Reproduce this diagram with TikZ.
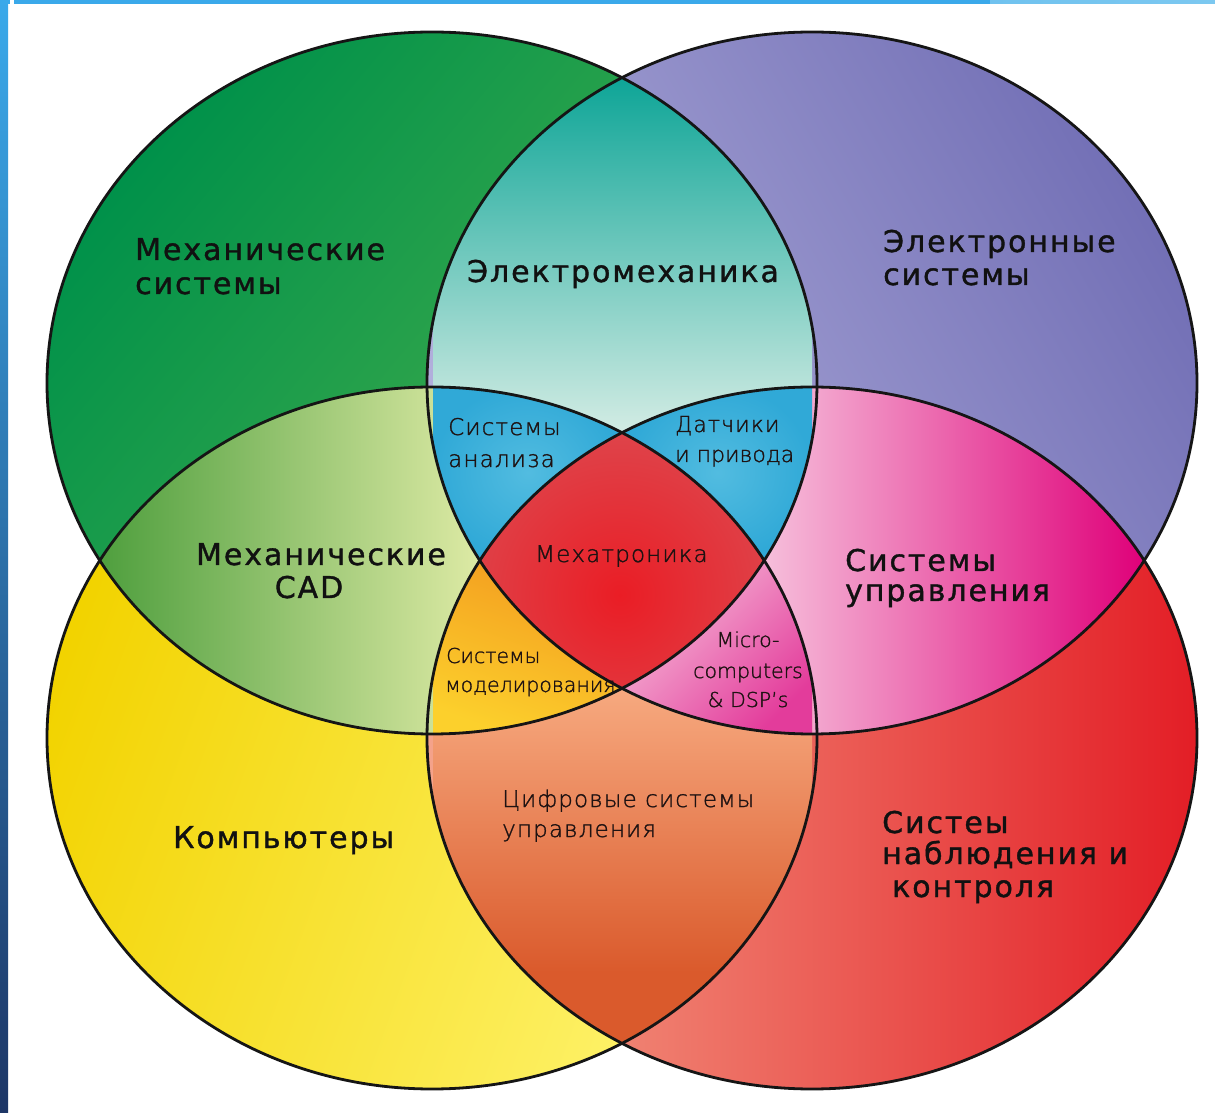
\documentclass[tikz,border=0pt]{standalone}
\usepackage{fontspec}
\setmainfont{DejaVu Sans}
\newfontfamily\bigf{DejaVu Sans}[LetterSpace=6.5,FakeBold=1.2]
\IfFontExistsTF{DejaVu Sans ExtraLight}{\newfontfamily\thinf{DejaVu Sans ExtraLight}[LetterSpace=5,FakeBold=1.3]\newfontfamily\thinn{DejaVu Sans ExtraLight}[LetterSpace=0,FakeBold=1.3]}{\newfontfamily\thinf{DejaVu Sans}[LetterSpace=5]\newfontfamily\thinn{DejaVu Sans}[LetterSpace=0]}
\definecolor{gTop}{HTML}{00914A}
\definecolor{gBot}{HTML}{55B44C}
\definecolor{pTop}{HTML}{7370B6}
\definecolor{pBot}{HTML}{B5B3DE}
\definecolor{yTop}{HTML}{F2D300}
\definecolor{yBot}{HTML}{FFF574}
\definecolor{rTop}{HTML}{F4A38B}
\definecolor{rBot}{HTML}{E31E26}
\definecolor{emTop}{HTML}{0EA597}
\definecolor{emMid}{HTML}{9AD8CE}
\definecolor{emBot}{HTML}{D3ECE4}
\definecolor{cadL}{HTML}{4F9F3E}
\definecolor{cadR}{HTML}{DFEBA6}
\definecolor{ctlL}{HTML}{F6BFDB}
\definecolor{ctlR}{HTML}{DF0079}
\definecolor{digTop}{HTML}{F7AA80}
\definecolor{digMid}{HTML}{EE7226}
\definecolor{digBot}{HTML}{DA5A2C}
\definecolor{blueA}{HTML}{30A9D7}
\definecolor{blueB}{HTML}{52BCE0}
\definecolor{modTop}{HTML}{F39A1F}
\definecolor{modBot}{HTML}{FCD02C}
\definecolor{mcTop}{HTML}{F6BCD9}
\definecolor{mcBot}{HTML}{E33C9B}
\definecolor{mtIn}{HTML}{EA1D25}
\definecolor{mtOut}{HTML}{D8585E}
\definecolor{barTop}{HTML}{3AA9EA}
\definecolor{barBot}{HTML}{1D3666}
\definecolor{barLight}{HTML}{7CC8F0}
\definecolor{outl}{HTML}{151515}
\definecolor{txt}{HTML}{111111}
\definecolor{txtT}{HTML}{1E1212}
\begin{document}
\begin{tikzpicture}[x=1pt,y=1pt,
  ell/.style={x radius=385pt, y radius=351pt},
  outline/.style={draw=outl, line width=2.8pt},
  bigt/.style={font=\bigf\fontsize{30}{34}\selectfont, inner sep=0pt, text=txt},
  thint/.style={font=\thinf\fontsize{23}{28}\selectfont, inner sep=0pt, text=txtT},
  smallt/.style={font=\thinn\fontsize{20.5}{24}\selectfont, inner sep=0pt, text=txtT}]
\useasboundingbox (0,0) rectangle (1215,1112);
\fill[white] (0,0) rectangle (1215,1112);
% frame bars
\shade[top color=barTop, bottom color=barBot] (0,0) rectangle (8,1112);
\fill[barTop] (0,1108) rectangle (10,1112);
\shade[top color=barTop, bottom color=barLight, shading angle=90] (14,1108) rectangle (1215,1112);
\fill[barTop] (14,1108) rectangle (990,1112);
% centres
\coordinate (cG) at (432,729);
\coordinate (cP) at (812,729);
\coordinate (cY) at (432,374);
\coordinate (cR) at (812,374);
% single sets
\shade[top color=gTop, bottom color=gBot, shading angle=50] (cG) ellipse [ell];
\shade[top color=pTop, bottom color=pBot, shading angle=-60] (cP) ellipse [ell];
\shade[top color=yTop, bottom color=yBot, shading angle=70] (cY) ellipse [ell];
\shade[top color=rTop, bottom color=rBot, shading angle=90] (cR) ellipse [ell];
% pairs
\begin{scope}
  \clip (cG) ellipse [ell]; \clip (cP) ellipse [ell];
  \shade[top color=emTop, middle color=emMid, bottom color=emBot] (433,679) rectangle (812,1034);
\end{scope}
\begin{scope}
  \clip (cG) ellipse [ell]; \clip (cY) ellipse [ell];
  \shade[top color=cadL, bottom color=cadR, shading angle=90] (100,377) rectangle (485,727);
\end{scope}
\begin{scope}
  \clip (cP) ellipse [ell]; \clip (cR) ellipse [ell];
  \shade[top color=ctlL, bottom color=ctlR, shading angle=90] (764,377) rectangle (1144,727);
\end{scope}
\begin{scope}
  \clip (cY) ellipse [ell]; \clip (cR) ellipse [ell];
  \fill[digBot] (433,60) rectangle (812,150);
  \shade[top color=digTop, middle color=digMid, bottom color=digBot] (433,140) rectangle (812,426);
\end{scope}
% triples
\begin{scope}
  \clip (cG) ellipse [ell]; \clip (cP) ellipse [ell]; \clip (cY) ellipse [ell];
  \shade[inner color=blueB, outer color=blueA] (433,552) rectangle (623,727);
\end{scope}
\begin{scope}
  \clip (cG) ellipse [ell]; \clip (cP) ellipse [ell]; \clip (cR) ellipse [ell];
  \shade[inner color=blueB, outer color=blueA] (623,552) rectangle (812,727);
\end{scope}
\begin{scope}
  \clip (cG) ellipse [ell]; \clip (cY) ellipse [ell]; \clip (cR) ellipse [ell];
  \shade[top color=modTop, bottom color=modBot, shading angle=-20] (433,377) rectangle (623,552);
\end{scope}
\begin{scope}
  \clip (cP) ellipse [ell]; \clip (cY) ellipse [ell]; \clip (cR) ellipse [ell];
  \shade[top color=mcTop, bottom color=mcBot, shading angle=45] (623,377) rectangle (812,552);
\end{scope}
% all four
\begin{scope}
  \clip (cG) ellipse [ell]; \clip (cP) ellipse [ell]; \clip (cY) ellipse [ell]; \clip (cR) ellipse [ell];
  \shade[inner color=mtIn, outer color=mtOut] (370,267) rectangle (870,767);
\end{scope}
% outlines
\draw[outline] (cG) ellipse [ell];
\draw[outline] (cP) ellipse [ell];
\draw[outline] (cY) ellipse [ell];
\draw[outline] (cR) ellipse [ell];
% big labels
\node[bigt, anchor=base west] (mech1) at (135,852) {Механические};
\node[bigt, anchor=base west] (mech2) at (135,818) {системы};
\node[bigt, anchor=base west] (em) at (467,830) {Электромеханика};
\node[bigt, anchor=base west] (el1) at (883,860) {Электронные};
\node[bigt, anchor=base west] (el2) at (883,827) {системы};
\node[bigt, anchor=base] (cad1) at (321,547) {Механические};
\node[bigt, anchor=base] (cad2) at (309,514) {CAD};
\node[bigt, anchor=base west] (ctl1) at (845,541) {Системы};
\node[bigt, anchor=base west] (ctl2) at (845,511) {управления};
\node[bigt, anchor=base west] (comp) at (173,264) {Компьютеры};
\node[bigt, anchor=base west] (nab1) at (882,279) {Систеы};
\node[bigt, anchor=base west] (nab2) at (882,248) {наблюдения и};
\node[bigt, anchor=base west] (nab3) at (892,215) {контроля};
% thin labels
\node[thint, anchor=base west] (an1) at (448,677) {Системы};
\node[thint, anchor=base west] (an2) at (448,645) {анализа};
\node[thint, anchor=base west, font=\thinf\fontsize{22}{26}\selectfont] (dat1) at (675,680) {Датчики};
\node[thint, anchor=base west, font=\thinn\fontsize{22}{26}\selectfont] (dat2) at (675,650) {и привода};
\node[thint, anchor=base west] (mt) at (535,550) {Мехатроника};
\node[smallt, anchor=base west] (mod1) at (446,449) {Системы};
\node[smallt, anchor=base west] (mod2) at (445,420) {моделирования};
\node[smallt, anchor=base] (mc1) at (748,465) {Micro-};
\node[smallt, anchor=base] (mc2) at (748,434) {computers};
\node[smallt, anchor=base] (mc3) at (748,405) {\&~DSP’s};
\node[thint, anchor=base west] (cf1) at (502,305) {Цифровые системы};
\node[thint, anchor=base west] (cf2) at (502,275) {управления};
\end{tikzpicture}
\end{document}
